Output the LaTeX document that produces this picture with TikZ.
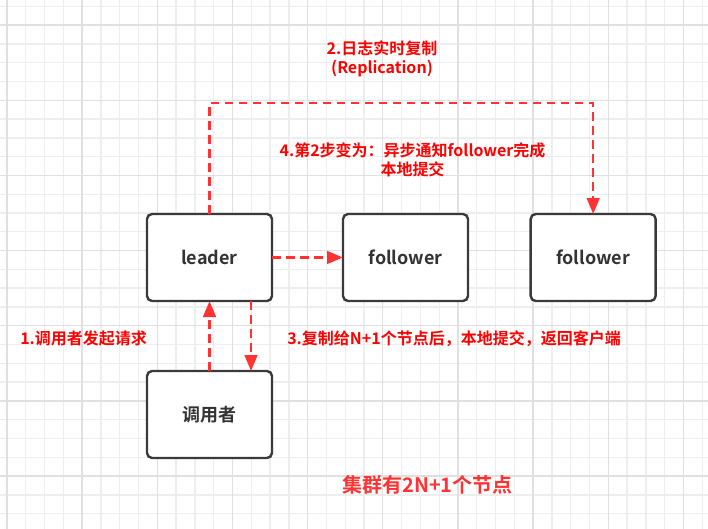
\documentclass[tikz,border=0pt]{standalone}
\usepackage{fontspec}
\setmainfont{Noto Sans CJK SC}[BoldFont={Noto Sans CJK SC Bold}]
\usetikzlibrary{arrows.meta,positioning,calc}
\definecolor{ink}{RGB}{51,51,51}
\definecolor{edge}{RGB}{58,58,58}
\definecolor{hot}{RGB}{255,0,0}
\definecolor{hotlight}{RGB}{255,51,51}
\definecolor{gridminor}{RGB}{238,238,238}
\definecolor{gridmajor}{RGB}{224,224,224}
\tikzset{
  px/.style={x=0.75pt, y=-0.75pt},
  node distance=52.5pt and 53.25pt,
  box/.style={draw=edge, line width=1.8pt, outer sep=0pt, rounded corners=3.8pt, fill=white, minimum width=93.75pt, minimum height=65.25pt, text=ink, font=\fontsize{13.5pt}{15pt}\selectfont\bfseries},
  repl/.style={draw=hotlight, line width=1.8pt, dash pattern=on 6.5pt off 4pt, -{Triangle[length=12pt,width=9.5pt]}},
  lbl/.style={text=hot, font=\fontsize{12pt}{14pt}\selectfont\bfseries, align=center, inner sep=0pt},
  gridline/.style={line width=1pt},
}
\begin{document}
\begin{tikzpicture}[px]
  \fill[white] (0,0) rectangle (708,529);
  \useasboundingbox (0,0) rectangle (708,529);
  \foreach \i in {0,...,37} {
    \pgfmathsetmacro\gx{7+18.79*\i}
    \draw[gridline, gridminor] (\gx,0) -- (\gx,529);
  }
  \foreach \i in {0,...,27} {
    \pgfmathsetmacro\gy{6.3+18.79*\i}
    \draw[gridline, gridminor] (0,\gy) -- (708,\gy);
  }
  \foreach \i in {0,...,9} {
    \pgfmathsetmacro\gx{7+75.16*\i}
    \draw[gridline, gridmajor] (\gx,0) -- (\gx,529);
  }
  \foreach \i in {0,...,6} {
    \pgfmathsetmacro\gy{25.1+75.16*\i}
    \draw[gridline, gridmajor] (0,\gy) -- (708,\gy);
  }
  \node[box] (leader) at (209.5,257.5) {leader};
  \node[box, right=of leader] (follower1) {follower};
  \node[box, right=47pt of follower1] (follower2) {follower};
  \node[box, below=of leader] (caller) {调用者};
  \coordinate (bend) at (0,103);
  \draw[repl] (leader.north) -- (leader.north |- bend) -| (follower2.north);
  \draw[repl] (leader.east) -- (follower1.west);
  \draw[repl] (caller.north) -- (leader.south);
  \draw[repl] ($(leader.south)+(41.5,0)$) -- ($(caller.north)+(41.5,0)$);
  \node[lbl] (replnote) at (382,59) {2.日志实时复制\\(Replication)};
  \node[lbl] (asyncnote) at (412.5,160) {4.第2步变为：异步通知follower完成\\本地提交};
  \node[lbl, anchor=west] (asknote) at (20,338) {1.调用者发起请求};
  \node[lbl, anchor=west] (commitnote) at (287,339) {3.复制给N+1个节点后，本地提交，返回客户端};
  \node[lbl, text=hotlight, font=\fontsize{15pt}{17pt}\selectfont\bfseries] (clusternote) at (427.5,485) {集群有2N+1个节点};
\end{tikzpicture}
\end{document}
